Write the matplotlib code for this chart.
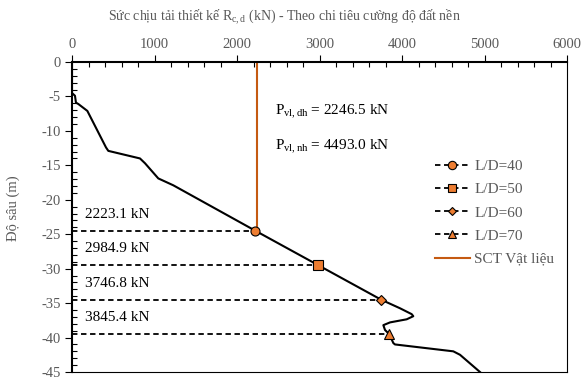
import matplotlib
matplotlib.use("Agg")
import matplotlib.pyplot as plt
from matplotlib.lines import Line2D
from matplotlib.ticker import MultipleLocator

plt.rcParams['font.family'] = ['Liberation Serif', 'DejaVu Serif']
plt.rcParams['mathtext.fontset'] = 'custom'
plt.rcParams['mathtext.rm'] = 'Liberation Serif'
plt.rcParams['mathtext.it'] = 'Liberation Serif:italic'
plt.rcParams['axes.unicode_minus'] = False

### Bearing capacity curve vs depth
curve_x = [0, 0, 36, 48, 77, 186, 412, 440, 824, 885, 1046, 1228, 2223.1, 2984.9, 3746.8,
           3976, 4117, 4137, 4057, 3855, 3774, 3794, 3845.4, 3895, 3915, 4622, 4703, 4945]
curve_y = [0, -4.5, -4.9, -5.9, -6.1, -7.1, -12.4, -12.9, -14.0, -14.7, -16.9, -17.9, -24.5, -29.5, -34.5,
           -35.75, -36.6, -36.9, -37.35, -37.8, -38.2, -38.9, -39.5, -40.8, -41.0, -42.0, -42.5, -45.0]

### Pile tips for each L/D
labels = ['L/D=40', 'L/D=50', 'L/D=60', 'L/D=70']
tip_load = [2223.1, 2984.9, 3746.8, 3845.4]
tip_depth = [-24.5, -29.5, -34.5, -39.5]
markers = ['o', 's', 'D', '^']
msizes = [6.5, 6.5, 5, 6.5]

### Material capacity
p_dh = 2246.5
p_nh = 4493.0

orange = '#ED7D31'
dark_orange = '#C55A11'
gray = '#595959'

fig = plt.figure(figsize=(5.82, 3.77), dpi=100)
ax = fig.add_axes([72/582, 1-372/377, 495/582, 310/377])

ax.plot(curve_x, curve_y, color='black', lw=1.5, zorder=3)
ax.plot([p_dh, p_dh], [0, tip_depth[0]], color=dark_orange, lw=1.5, zorder=2)

for i in range(len(labels)):
    ax.plot([0, tip_load[i]], [tip_depth[i], tip_depth[i]], color='black', ls='--', lw=1.3, dashes=(3, 2), zorder=2)
    ax.plot(tip_load[i], tip_depth[i], marker=markers[i], ms=msizes[i], mfc=orange, mec='black', mew=0.8, zorder=5)
    ax.text(160, tip_depth[i] + 2.4, '%.1f kN' % tip_load[i], fontsize=11, va='center', ha='left')

ax.text(2460, -7.3, r'P$_{\mathrm{vl,dh}}$ = %.1f kN' % p_dh, fontsize=11, va='center')
ax.text(2460, -12.4, r'P$_{\mathrm{vl,nh}}$ = %.1f kN' % p_nh, fontsize=11, va='center')

ax.set_xlim(0, 6000)
ax.set_ylim(-45, 0)
ax.xaxis.tick_top()
ax.xaxis.set_label_position('top')
ax.xaxis.set_major_locator(MultipleLocator(1000))
ax.xaxis.set_minor_locator(MultipleLocator(200))
ax.yaxis.set_major_locator(MultipleLocator(5))
ax.yaxis.set_minor_locator(MultipleLocator(1))
ax.tick_params(which='major', direction='out', length=5, width=0.8, labelsize=10.5, labelcolor=gray, pad=3)
ax.tick_params(which='minor', direction='in', length=3.5, width=0.8)
ax.set_xlabel(r'Sức chịu tải thiết kế R$_{\mathrm{c,d}}$ (kN) - Theo chi tiêu cường độ đất nền',
              fontsize=10, color=gray)
ax.xaxis.set_label_coords(0.43, 1.135)
ax.set_ylabel('Độ sâu (m)', fontsize=10.5, color=gray)
ax.yaxis.set_label_coords(-0.105, 0.53)

ax.spines['top'].set_linewidth(1.5)
ax.spines['left'].set_linewidth(1.5)
ax.spines['right'].set_linewidth(0.8)
ax.spines['bottom'].set_linewidth(0.8)

handles = []
for i in range(len(labels)):
    handles.append(Line2D([], [], color='black', ls='--', lw=1.3, dashes=(3, 2), marker=markers[i],
                          ms=msizes[i] - 0.5, mfc=orange, mec='black', mew=0.8))
handles.append(Line2D([], [], color=dark_orange, lw=1.5))
leg = ax.legend(handles, labels + ['SCT Vật liệu'], loc='upper left', bbox_to_anchor=(0.72, 0.705),
                frameon=False, fontsize=11, handlelength=2.3, handletextpad=0.3, labelspacing=0.62,
                borderaxespad=0)
for t in leg.get_texts():
    t.set_color(gray)

fig.savefig('out.png', dpi=100)
